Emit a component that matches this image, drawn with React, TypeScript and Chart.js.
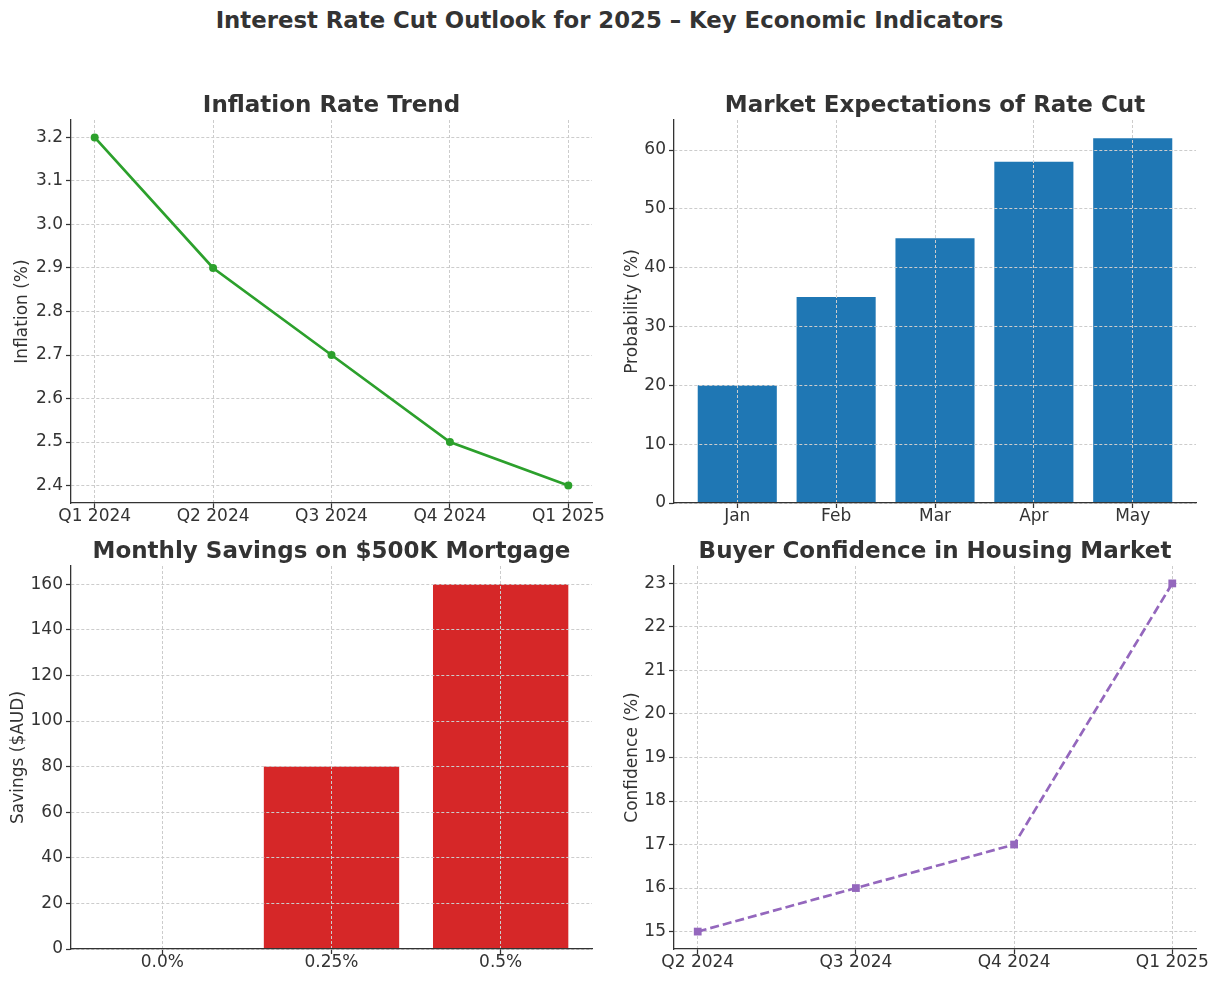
import React, { useEffect, useRef } from "react";
import { Chart, registerables } from "chart.js";

Chart.register(...registerables);

const FONT = "'DejaVu Sans', sans-serif";
const TEXT = "#333333";
const GRID = "#cccccc";

const MAIN_TITLE = "Interest Rate Cut Outlook for 2025 – Key Economic Indicators";

const INFLATION_LABELS = ["Q1 2024", "Q2 2024", "Q3 2024", "Q4 2024", "Q1 2025"];
const INFLATION_VALUES = [3.2, 2.9, 2.7, 2.5, 2.4];
const INFLATION_TICKS = [2.4, 2.5, 2.6, 2.7, 2.8, 2.9, 3.0, 3.1, 3.2];

const MONTHS = ["Jan", "Feb", "Mar", "Apr", "May"];
const PROBABILITY = [20, 35, 45, 58, 62];
const PROBABILITY_TICKS = [0, 10, 20, 30, 40, 50, 60];

const CUT_LABELS = ["0.0%", "0.25%", "0.5%"];
const SAVINGS = [0, 80, 160];
const SAVINGS_TICKS = [0, 20, 40, 60, 80, 100, 120, 140, 160];

const CONFIDENCE_LABELS = ["Q2 2024", "Q3 2024", "Q4 2024", "Q1 2025"];
const CONFIDENCE = [15, 16, 17, 23];
const CONFIDENCE_TICKS = [15, 16, 17, 18, 19, 20, 21, 22, 23];

type Panel = {
  left: number;
  top: number;
  width: number;
  height: number;
  padRight: number;
  yWidth: number;
  xHeight: number;
  title: string;
  yTitle: string;
  yTitlePad: number;
  kind: "line" | "bar";
  labels: string[];
  values: number[];
  yTicks: number[];
  xMin: number;
  xMax: number;
  yMin: number;
  yMax: number;
  color: string;
  dashed?: boolean;
  pointStyle?: string;
  pointRadius?: number;
  decimals: number;
};

const PANELS: Panel[] = [
  {
    left: 0, top: 80, width: 609, height: 460, padRight: 17, yWidth: 71, xHeight: 37,
    title: "Inflation Rate Trend", yTitle: "Inflation (%)", yTitlePad: 12,
    kind: "line", labels: INFLATION_LABELS, values: INFLATION_VALUES, yTicks: INFLATION_TICKS,
    xMin: -0.2, xMax: 4.2, yMin: 2.36, yMax: 3.24, color: "#2ca02c",
    pointStyle: "circle", pointRadius: 4, decimals: 1,
  },
  {
    left: 609, top: 80, width: 610, height: 460, padRight: 23, yWidth: 65, xHeight: 37,
    title: "Market Expectations of Rate Cut", yTitle: "Probability (%)", yTitlePad: 13,
    kind: "bar", labels: MONTHS, values: PROBABILITY, yTicks: PROBABILITY_TICKS,
    xMin: -0.64, xMax: 4.64, yMin: 0, yMax: 65.1, color: "#1f77b4", decimals: 0,
  },
  {
    left: 0, top: 526, width: 609, height: 455, padRight: 17, yWidth: 71, xHeight: 32,
    title: "Monthly Savings on $500K Mortgage", yTitle: "Savings ($AUD)", yTitlePad: 8,
    kind: "bar", labels: CUT_LABELS, values: SAVINGS, yTicks: SAVINGS_TICKS,
    xMin: -0.54, xMax: 2.54, yMin: 0, yMax: 168, color: "#d62728", decimals: 0,
  },
  {
    left: 609, top: 526, width: 610, height: 455, padRight: 23, yWidth: 65, xHeight: 32,
    title: "Buyer Confidence in Housing Market", yTitle: "Confidence (%)", yTitlePad: 13,
    kind: "line", labels: CONFIDENCE_LABELS, values: CONFIDENCE, yTicks: CONFIDENCE_TICKS,
    xMin: -0.15, xMax: 3.15, yMin: 14.6, yMax: 23.4, color: "#9467bd",
    dashed: true, pointStyle: "rect", pointRadius: 5.5, decimals: 0,
  },
];

function buildConfig(p: Panel): any {
  const xTickValues = p.labels.map((_, i) => i);
  const points = p.values.map((v, i) => ({ x: i, y: v }));
  const dataset: any =
    p.kind === "line"
      ? {
          data: points,
          borderColor: p.color,
          backgroundColor: p.color,
          borderWidth: 2.7,
          borderDash: p.dashed ? [9, 4] : [],
          pointStyle: p.pointStyle,
          pointRadius: p.pointRadius,
          pointBackgroundColor: p.color,
          pointBorderColor: p.color,
          pointBorderWidth: 0,
          tension: 0,
          fill: false,
        }
      : {
          data: points,
          backgroundColor: p.color,
          borderWidth: 0,
          barPercentage: 0.8,
          categoryPercentage: 1,
        };

  const tickFont = { family: FONT, size: 17 };
  // matplotlib draws the grid above bars (patches) but below lines
  const gridZ = p.kind === "bar" ? 1 : -1;
  const gridOpts = {
    color: GRID,
    lineWidth: 1,
    z: gridZ,
    drawTicks: true,
    tickLength: 5,
    tickColor: TEXT,
    tickWidth: 1.25,
    tickBorderDash: [],
    offset: false,
  };
  const borderOpts = { display: true, color: TEXT, width: 1.3, dash: [3, 2], z: 2 };

  return {
    type: p.kind,
    data: { datasets: [dataset] },
    options: {
      animation: false,
      responsive: false,
      maintainAspectRatio: false,
      devicePixelRatio: 1,
      layout: { padding: { left: 0, right: p.padRight, top: 0, bottom: 0 } },
      plugins: {
        legend: { display: false },
        tooltip: { enabled: false },
        title: {
          display: true,
          fullSize: false,
          text: p.title,
          color: TEXT,
          font: { family: FONT, size: 23, weight: "bold" },
          padding: { top: 12.2, bottom: 0.2 },
        },
      },
      scales: {
        x: {
          type: "linear",
          min: p.xMin,
          max: p.xMax,
          offset: false,
          grid: gridOpts,
          border: borderOpts,
          afterBuildTicks: (axis: any) => {
            axis.ticks = xTickValues.map((v) => ({ value: v }));
          },
          afterFit: (axis: any) => {
            axis.height = p.xHeight;
            axis.paddingLeft = 0;
            axis.paddingRight = 0;
          },
          ticks: {
            color: TEXT,
            font: tickFont,
            padding: -1.5,
            maxRotation: 0,
            autoSkip: false,
            callback: (v: any) => p.labels[Math.round(Number(v))] ?? "",
          },
        },
        y: {
          type: "linear",
          min: p.yMin,
          max: p.yMax,
          grid: gridOpts,
          border: borderOpts,
          afterBuildTicks: (axis: any) => {
            axis.ticks = p.yTicks.map((v) => ({ value: v }));
          },
          afterFit: (axis: any) => {
            axis.width = p.yWidth;
            axis.paddingTop = 0;
            axis.paddingBottom = 0;
          },
          ticks: {
            color: TEXT,
            font: tickFont,
            padding: 3,
            autoSkip: false,
            callback: (v: any) => Number(v).toFixed(p.decimals),
          },
          title: {
            display: true,
            text: p.yTitle,
            color: TEXT,
            font: { family: FONT, size: 17 },
            padding: { top: p.yTitlePad, bottom: 0 },
          },
        },
      },
    },
  };
}

function ChartPanel({ panel }: { panel: Panel }) {
  const ref = useRef<HTMLCanvasElement | null>(null);
  useEffect(() => {
    if (!ref.current) return;
    const chart = new Chart(ref.current, buildConfig(panel));
    return () => chart.destroy();
  }, [panel]);
  return (
    <canvas
      ref={ref}
      width={panel.width}
      height={panel.height}
      style={{
        position: "absolute",
        left: panel.left,
        top: panel.top,
        width: panel.width,
        height: panel.height,
      }}
    />
  );
}

export default function App() {
  return (
    <div
      style={{
        position: "absolute",
        left: 0,
        top: 0,
        width: 1219,
        height: 981,
        background: "#ffffff",
        overflow: "hidden",
      }}
    >
      <div
        style={{
          position: "absolute",
          left: 0,
          top: 0,
          width: 1219,
          height: 40,
          lineHeight: "40px",
          textAlign: "center",
          fontFamily: FONT,
          fontWeight: "bold",
          fontSize: 22.8,
          color: TEXT,
        }}
      >
        {MAIN_TITLE}
      </div>
      {PANELS.map((p, i) => (
        <ChartPanel key={i} panel={p} />
      ))}
    </div>
  );
}
